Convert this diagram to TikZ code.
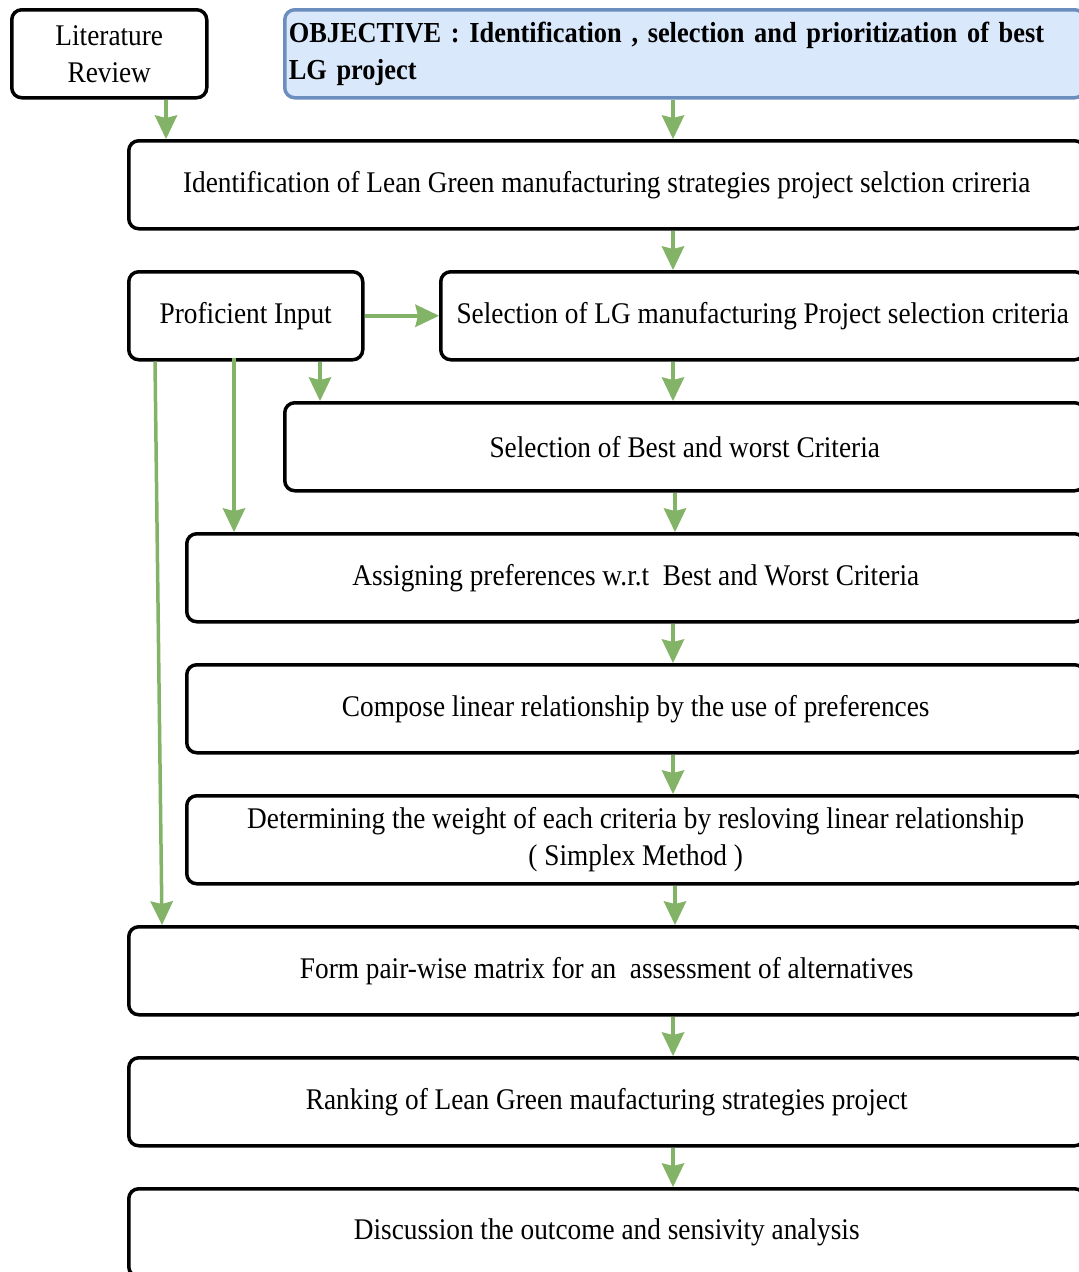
\documentclass[tikz,border=0pt]{standalone}
\usepackage{fontspec}
\setmainfont{Liberation Serif}[FakeStretch=0.91]
\usetikzlibrary{arrows.meta}
\definecolor{flowgreen}{HTML}{82B366}
\definecolor{objfill}{HTML}{DAE8FC}
\definecolor{objdraw}{HTML}{6C8EBF}

\begin{document}
\begin{tikzpicture}[x=1pt,y=-1pt,
  box/.style={draw=black, line width=3.5pt, rounded corners=10pt,
    anchor=north west, inner sep=0pt, minimum height=88pt,
    font=\fontsize{30}{37}\selectfont, align=center},
  objbox/.style={box, draw=objdraw, fill=objfill, align=left,
    font=\bfseries\fontsize{29}{37}\selectfont},
  arr/.style={draw=flowgreen, line width=3.5pt,
    -{Stealth[length=24pt,width=23pt,inset=3pt,line width=0pt]}}]

\useasboundingbox (0,0) rectangle (1079,1272);
\clip (0,0) rectangle (1079,1272);

% top row
\node[box, minimum width=195pt] (lit) at (10,8) {Literature\\Review};
\node[objbox, minimum width=800pt, text width=792pt, inner xsep=4pt] (obj) at (283,8)
  {OBJECTIVE : Identification , selection and prioritization of best\\LG project};

% main flow
\node[box, minimum width=956pt] (crit) at (127,139)
  {Identification of Lean Green manufacturing strategies project selction crireria};
\node[box, minimum width=234pt] (prof) at (127,270) {Proficient Input};
\node[box, minimum width=644pt] (sel) at (439,270)
  {Selection of LG manufacturing Project selection criteria};
\node[box, minimum width=800pt] (best) at (283,401)
  {Selection of Best and worst Criteria};
\node[box, minimum width=898pt] (assign) at (185,532)
  {Assigning preferences w.r.t\ \ Best and Worst Criteria};
\node[box, minimum width=898pt] (compose) at (185,663)
  {Compose linear relationship by the use of preferences};
\node[box, minimum width=898pt] (weight) at (185,794)
  {Determining the weight of each criteria by resloving linear relationship\\( Simplex Method )};
\node[box, minimum width=956pt] (pair) at (127,925)
  {Form pair-wise matrix for an\ \ assessment of alternatives};
\node[box, minimum width=956pt] (rank) at (127,1056)
  {Ranking of Lean Green maufacturing strategies project};
\node[box, minimum width=956pt] (disc) at (127,1187)
  {Discussion the outcome and sensivity analysis};

% x positions of the vertical connectors
\coordinate (xlit) at (166,0);
\coordinate (xmain) at (673,0);
\coordinate (xmainb) at (675,0);
\coordinate (xproa) at (320,0);
\coordinate (xprob) at (234,0);
\coordinate (xproc) at (155,0);
\coordinate (xprocend) at (162,0);

\draw[arr] (lit.south -| xlit) -- (crit.north -| xlit);
\draw[arr] (obj.south -| xmain) -- (crit.north -| xmain);
\draw[arr] (crit.south -| xmain) -- (sel.north -| xmain);
\draw[arr] (prof.east) -- (sel.west);
\draw[arr] (sel.south -| xmain) -- (best.north -| xmain);
\draw[arr] (prof.south -| xproa) -- (best.north -| xproa);
\draw[arr] ([yshift=4pt]prof.south -| xprob) -- (assign.north -| xprob);
\draw[arr] (prof.south -| xproc) -- (pair.north -| xprocend);
\draw[arr] (best.south -| xmainb) -- (assign.north -| xmainb);
\draw[arr] (assign.south -| xmain) -- (compose.north -| xmain);
\draw[arr] (compose.south -| xmain) -- (weight.north -| xmain);
\draw[arr] (weight.south -| xmainb) -- (pair.north -| xmainb);
\draw[arr] (pair.south -| xmain) -- (rank.north -| xmain);
\draw[arr] (rank.south -| xmain) -- (disc.north -| xmain);
\end{tikzpicture}
\end{document}
